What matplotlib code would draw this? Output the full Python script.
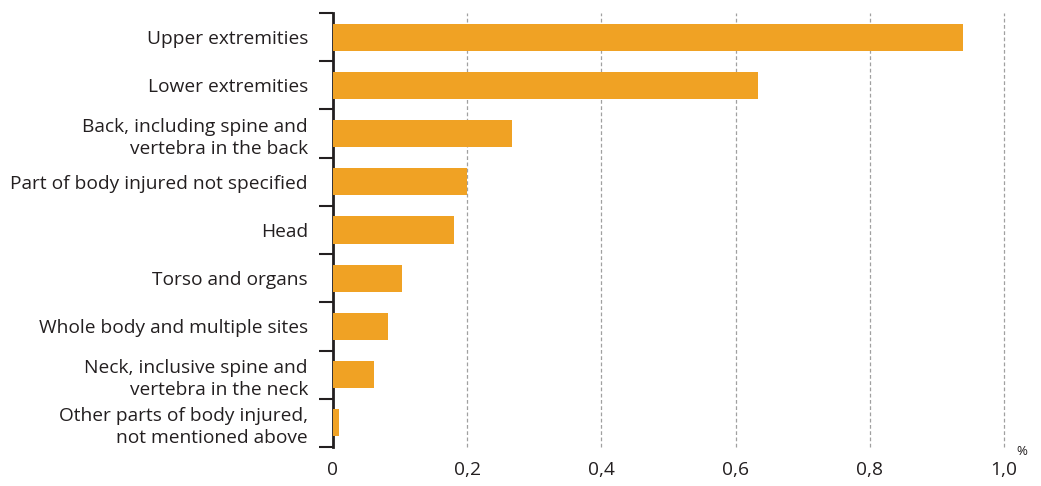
import matplotlib
matplotlib.use("Agg")
import matplotlib.pyplot as plt
import numpy as np

categories = [
    "Upper extremities",
    "Lower extremities",
    "Back, including spine and\nvertebra in the back",
    "Part of body injured not specified",
    "Head",
    "Torso and organs",
    "Whole body and multiple sites",
    "Neck, inclusive spine and\nvertebra in the neck",
    "Other parts of body injured,\nnot mentioned above",
]
values = [0.939, 0.634, 0.267, 0.199, 0.181, 0.103, 0.082, 0.061, 0.009]
xticks = [0, 0.2, 0.4, 0.6, 0.8, 1.0]
xticklabels = ["0", "0,2", "0,4", "0,6", "0,8", "1,0"]

plt.rcParams['font.family'] = ['Open Sans', 'DejaVu Sans']
txt = "#231f20"
bar_color = "#f0a224"

fig = plt.figure(figsize=(10.41, 4.86), dpi=100)
ax = fig.add_axes([333/1041, 1-447/486, (1004-333)/1041, (447-13)/486])

n = len(categories)
y = np.arange(n)
ax.barh(y, values, height=0.56, color=bar_color, zorder=3)
ax.set_ylim(n-0.5, -0.5)
ax.set_xlim(0, 1.0)

for xv in xticks[1:]:
    ax.axvline(xv, color="#a0a0a0", lw=0.9, ls=(0, (3, 2)), zorder=1, clip_on=False)

ax.set_yticks(y)
ax.set_yticklabels(categories, fontsize=13.8, color=txt, ha="right", linespacing=1.3)
ax.set_yticks(np.arange(-0.5, n, 1), minor=True)
ax.tick_params(axis="y", which="major", length=0, pad=18)
ax.tick_params(axis="y", which="minor", length=10, width=1.5, color=txt, direction="out")

ax.set_xticks(xticks)
ax.set_xticklabels(xticklabels, fontsize=13.8, color=txt)
ax.tick_params(axis="x", length=0, pad=10)

for s in ["top", "right", "bottom"]:
    ax.spines[s].set_visible(False)
ax.spines["left"].set_color(txt)
ax.spines["left"].set_linewidth(2)

ax.text(1.027, n-0.4, "%", fontsize=9.5, color=txt, ha="center", va="center",
        transform=ax.transData, clip_on=False)

fig.savefig("out.png", dpi=100)
